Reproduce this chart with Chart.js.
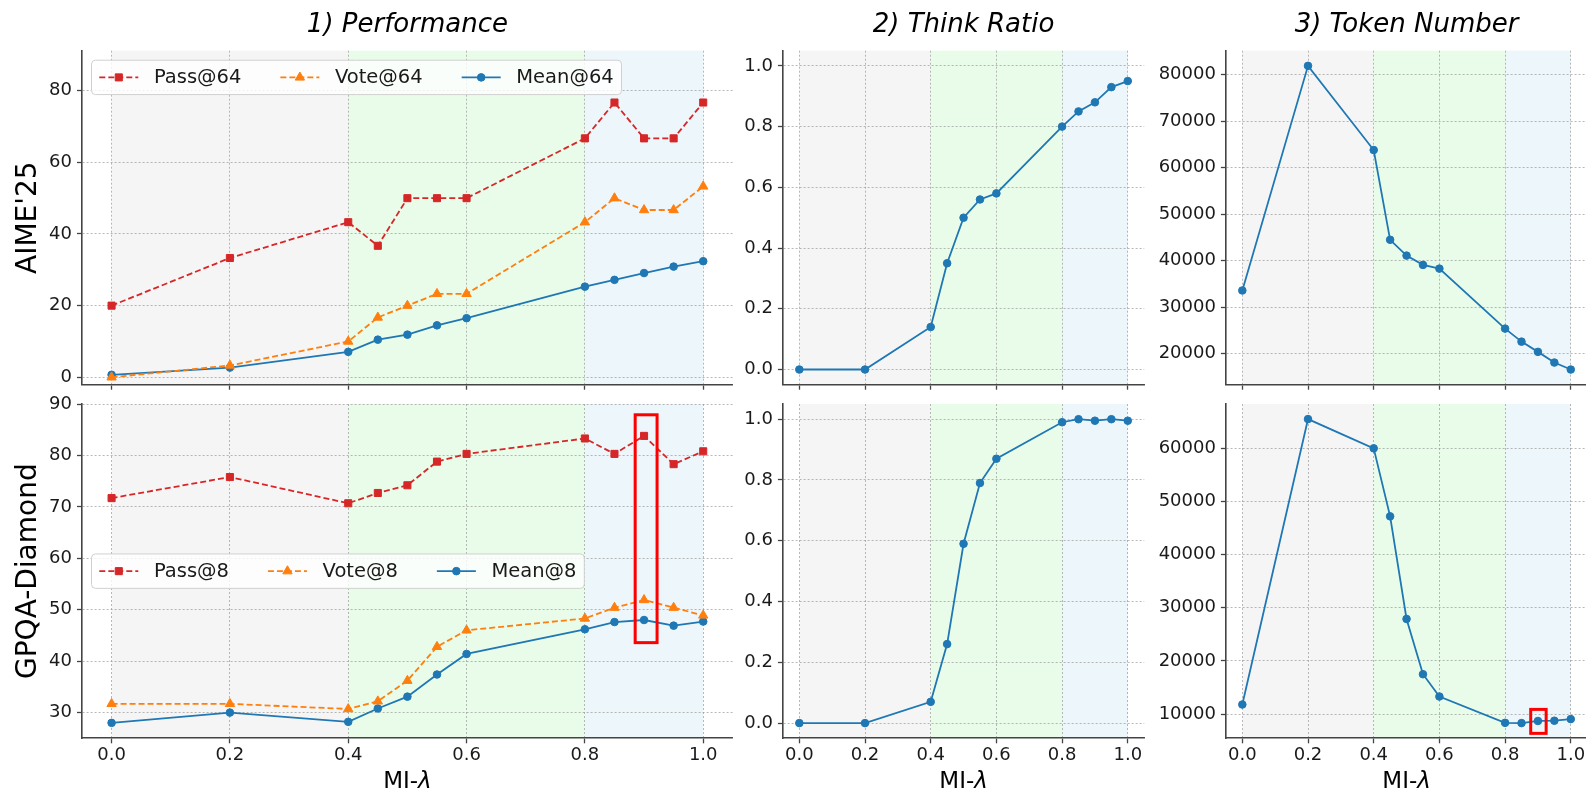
<!DOCTYPE html>
<html>
<head>
<meta charset="utf-8">
<script src="https://cdn.jsdelivr.net/npm/chart.js@4.4.0/dist/chart.umd.min.js"></script>
<style>
  html, body { margin: 0; padding: 0; background: #fff; }
  body { position: relative; width: 1586px; height: 791px; overflow: hidden; }
  canvas { position: absolute; }
</style>
</head>
<body>
<script>
// ---- data -------------------------------------------------------------
const lambdas = [0.0, 0.2, 0.4, 0.45, 0.5, 0.55, 0.6, 0.8, 0.85, 0.9, 0.95, 1.0];

const aimePass64 = [20.0, 33.3, 43.3, 36.7, 50.0, 50.0, 50.0, 66.7, 76.7, 66.7, 66.7, 76.7];
const aimeVote64 = [0.0, 3.3, 10.0, 16.7, 20.0, 23.3, 23.3, 43.3, 50.0, 46.7, 46.7, 53.3];
const aimeMean64 = [0.7, 2.7, 7.1, 10.5, 11.9, 14.5, 16.5, 25.3, 27.2, 29.1, 30.9, 32.4];

const gpqaPass8 = [71.7, 75.8, 70.7, 72.7, 74.2, 78.8, 80.3, 83.3, 80.3, 83.8, 78.3, 80.8];
const gpqaVote8 = [31.7, 31.7, 30.7, 32.2, 36.2, 42.8, 46.0, 48.3, 50.4, 51.9, 50.4, 48.9];
const gpqaMean8 = [28.0, 30.0, 28.2, 30.8, 33.1, 37.4, 41.4, 46.2, 47.6, 48.0, 46.9, 47.7];

const aimeThinkRatio = [0.0, 0.0, 0.14, 0.35, 0.50, 0.56, 0.58, 0.80, 0.85, 0.88, 0.93, 0.95];
const gpqaThinkRatio = [0.0, 0.0, 0.07, 0.26, 0.59, 0.79, 0.87, 0.99, 1.0, 0.995, 1.0, 0.995];

const aimeTokens = [33600, 81900, 63800, 44500, 41100, 39100, 38300, 25400, 22600, 20400, 18100, 16600];
const gpqaTokens = [11800, 65500, 60000, 47200, 27900, 17500, 13300, 8350, 8300, 8700, 8750, 9050];

// tick labels
const lambdaTicks = [0.0, 0.2, 0.4, 0.6, 0.8, 1.0];
const aimeScoreTicks = [0, 20, 40, 60, 80];
const gpqaScoreTicks = [30, 40, 50, 60, 70, 80, 90];
const ratioTicks = [0.0, 0.2, 0.4, 0.6, 0.8, 1.0];
const aimeTokenTicks = [20000, 30000, 40000, 50000, 60000, 70000, 80000];
const gpqaTokenTicks = [10000, 20000, 30000, 40000, 50000, 60000];

// λ regimes shaded behind the curves
const regimeEdges = [0.0, 0.4, 0.8, 1.0];

// highlighted point (λ = 0.9), in data units: [xFrom, xTo, yFrom, yTo]
const gpqaScoreHighlight = [0.885, 0.922, 43.6, 87.9];
const gpqaTokenHighlight = [0.878, 0.925, 6370, 10880];

// ---- styling ----------------------------------------------------------
const FONT = "'DejaVu Sans', sans-serif";
const INK = '#1a1a1a';
const SPINE = '#444444';
const GRID = 'rgba(150,150,150,0.75)';
const regimeFills = ['rgba(0,0,0,0.04)', 'rgba(144,238,144,0.2)', 'rgba(173,216,230,0.22)'];

const seriesStyles = {
  pass: { color: '#d62728', dash: [6, 3], point: 'rect', radius: 5.0 },
  vote: { color: '#ff7f0e', dash: [6, 3], point: 'triangle', radius: 5.4 },
  mean: { color: '#1f77b4', dash: [], point: 'circle', radius: 3.8 }
};

const fmtInt = v => String(Math.round(v));
const fmtOne = v => v.toFixed(1);

// canvas box [left, top, width, height] and plot area [left, top, right, bottom] in page px
const panels = [
  { box: [0, 0, 745, 405], area: [82, 50.7, 732.8, 384.7], y: [-2.07, 91.17], yTicks: aimeScoreTicks, fmt: fmtInt,
    title: '1) Performance', yLabel: "AIME'25", legend: 'upper', showX: false,
    series: [['Pass@64', aimePass64, 'pass'], ['Vote@64', aimeVote64, 'vote'], ['Mean@64', aimeMean64, 'mean']] },
  { box: [722, 0, 432, 405], area: [782.9, 50.7, 1144.2, 384.7], y: [-0.05, 1.05], yTicks: ratioTicks, fmt: fmtOne,
    title: '2) Think Ratio', showX: false,
    series: [['Think Ratio', aimeThinkRatio, 'mean']] },
  { box: [1135, 0, 462, 405], area: [1225.9, 50.7, 1587.2, 384.7], y: [13340, 85160], yTicks: aimeTokenTicks, fmt: fmtInt,
    title: '3) Token Number', showX: false,
    series: [['Token Number', aimeTokens, 'mean']] },
  { box: [0, 385, 745, 415], area: [82, 404, 732.8, 738.3], y: [25, 90], yTicks: gpqaScoreTicks, fmt: fmtInt,
    yLabel: 'GPQA-Diamond', legend: 'center', showX: true, highlight: gpqaScoreHighlight,
    series: [['Pass@8', gpqaPass8, 'pass'], ['Vote@8', gpqaVote8, 'vote'], ['Mean@8', gpqaMean8, 'mean']] },
  { box: [722, 385, 432, 415], area: [782.9, 404, 1144.2, 738.3], y: [-0.05, 1.05], yTicks: ratioTicks, fmt: fmtOne,
    showX: true,
    series: [['Think Ratio', gpqaThinkRatio, 'mean']] },
  { box: [1135, 385, 462, 415], area: [1225.9, 404, 1587.2, 738.3], y: [5440, 68340], yTicks: gpqaTokenTicks, fmt: fmtInt,
    showX: true, highlight: gpqaTokenHighlight,
    series: [['Token Number', gpqaTokens, 'mean']] }
];

// ---- per-panel decoration: regime shading, legend, captions, highlight ----
function roundRectPath(ctx, x, y, w, h, r) {
  ctx.beginPath();
  ctx.moveTo(x + r, y);
  ctx.lineTo(x + w - r, y);
  ctx.arcTo(x + w, y, x + w, y + r, r);
  ctx.lineTo(x + w, y + h - r);
  ctx.arcTo(x + w, y + h, x + w - r, y + h, r);
  ctx.lineTo(x + r, y + h);
  ctx.arcTo(x, y + h, x, y + h - r, r);
  ctx.lineTo(x, y + r);
  ctx.arcTo(x, y, x + r, y, r);
  ctx.closePath();
}

function makeDecor(p) {
  const [cl, ct] = p.box;
  return {
    id: 'decor',
    beforeDraw(chart) {
      const { ctx, chartArea: a, scales: { x } } = chart;
      ctx.save();
      for (let i = 0; i < regimeFills.length; i++) {
        const x1 = x.getPixelForValue(regimeEdges[i]);
        const x2 = x.getPixelForValue(regimeEdges[i + 1]);
        ctx.fillStyle = regimeFills[i];
        ctx.fillRect(x1, a.top, x2 - x1, a.bottom - a.top);
      }
      ctx.restore();
    },
    afterDraw(chart) {
      const { ctx, chartArea: a, scales: { x, y } } = chart;
      ctx.save();

      // legend
      if (p.legend) {
        const fs = 19.5;
        ctx.font = fs + 'px ' + FONT;
        const pad = 0.4 * fs, handle = 2.0 * fs, textPad = 0.8 * fs, colGap = 2.0 * fs;
        const sets = chart.data.datasets;
        let w = pad * 2;
        sets.forEach((d, i) => {
          w += handle + textPad + ctx.measureText(d.label).width + (i < sets.length - 1 ? colGap : 0);
        });
        const h = 34.4;
        const bx = a.left + 9.5;
        const by = p.legend === 'upper' ? a.top + 9.5 : (a.top + a.bottom) / 2 - h / 2;
        roundRectPath(ctx, bx, by, w, h, 4);
        ctx.fillStyle = 'rgba(255,255,255,0.8)';
        ctx.fill();
        ctx.strokeStyle = '#d0d0d0';
        ctx.lineWidth = 1;
        ctx.stroke();
        const cy = by + h / 2;
        let cx = bx + pad;
        sets.forEach(d => {
          ctx.save();
          ctx.strokeStyle = d.borderColor;
          ctx.lineWidth = d.borderWidth;
          ctx.setLineDash(d.borderDash);
          ctx.beginPath();
          ctx.moveTo(cx, cy);
          ctx.lineTo(cx + handle, cy);
          ctx.stroke();
          ctx.setLineDash([]);
          ctx.fillStyle = d.pointBackgroundColor;
          ctx.strokeStyle = d.pointBorderColor;
          ctx.lineWidth = d.pointBorderWidth;
          Chart.helpers.drawPoint(ctx, { pointStyle: d.pointStyle, rotation: 0, radius: d.pointRadius, borderWidth: d.pointBorderWidth }, cx + handle / 2, cy);
          ctx.restore();
          ctx.fillStyle = INK;
          ctx.textAlign = 'left';
          ctx.textBaseline = 'middle';
          ctx.font = fs + 'px ' + FONT;
          const tx = cx + handle + textPad;
          ctx.fillText(d.label, tx, cy + 1);
          cx = tx + ctx.measureText(d.label).width + colGap;
        });
      }

      // highlighted point
      if (p.highlight) {
        const [x1, x2, y1, y2] = p.highlight;
        const px1 = x.getPixelForValue(x1), px2 = x.getPixelForValue(x2);
        const py1 = y.getPixelForValue(y2), py2 = y.getPixelForValue(y1);
        ctx.strokeStyle = '#ff0000';
        ctx.lineWidth = 3;
        ctx.strokeRect(px1, py1, px2 - px1, py2 - py1);
      }

      // panel title
      ctx.fillStyle = '#000';
      if (p.title) {
        ctx.font = 'italic 26px ' + FONT;
        ctx.textAlign = 'center';
        ctx.textBaseline = 'middle';
        ctx.fillText(p.title, (a.left + a.right) / 2, 25 - ct);
      }

      // benchmark label on the left
      if (p.yLabel) {
        ctx.save();
        ctx.translate(28.5 - cl, (a.top + a.bottom) / 2);
        ctx.rotate(-Math.PI / 2);
        ctx.font = '28px ' + FONT;
        ctx.textAlign = 'center';
        ctx.textBaseline = 'middle';
        ctx.fillText(p.yLabel, 0, 0);
        ctx.restore();
      }

      // x-axis caption "MI-λ" (λ in italic)
      if (p.showX) {
        const fs = 23;
        ctx.textBaseline = 'middle';
        ctx.textAlign = 'left';
        ctx.font = fs + 'px ' + FONT;
        const w1 = ctx.measureText('MI-').width;
        ctx.font = 'italic ' + fs + 'px ' + FONT;
        const w2 = ctx.measureText('λ').width;
        const sx = (a.left + a.right) / 2 - (w1 + w2) / 2;
        const sy = 782 - ct;
        ctx.font = fs + 'px ' + FONT;
        ctx.fillText('MI-', sx, sy);
        ctx.font = 'italic ' + fs + 'px ' + FONT;
        ctx.fillText('λ', sx + w1, sy);
      }
      ctx.restore();
    }
  };
}

// ---- build charts -----------------------------------------------------
function buildPanel(p) {
  const cv = document.createElement('canvas');
  const [cl, ct, cw, ch] = p.box;
  const [al, at, ar, ab] = p.area;
  cv.width = cw;
  cv.height = ch;
  Object.assign(cv.style, { left: cl + 'px', top: ct + 'px', width: cw + 'px', height: ch + 'px' });
  document.body.appendChild(cv);

  const yAxisWidth = al - cl;
  const xAxisHeight = ct + ch - ab;
  const tickFont = { family: FONT, size: 18 };
  const gridOpts = { color: GRID, lineWidth: 0.9, tickLength: 5, tickColor: SPINE, tickWidth: 1.3, tickBorderDash: [] };
  const borderOpts = { display: true, color: SPINE, width: 1.6, dash: [2, 2] };

  const datasets = p.series.map(([label, values, key]) => {
    const st = seriesStyles[key];
    return {
      label,
      data: lambdas.map((lam, i) => ({ x: lam, y: values[i] })),
      borderColor: st.color,
      backgroundColor: st.color,
      borderWidth: 1.8,
      borderDash: st.dash,
      pointStyle: st.point,
      pointRadius: st.radius,
      pointHoverRadius: st.radius,
      pointBorderWidth: 1,
      pointBorderColor: st.color,
      pointBackgroundColor: st.color,
      tension: 0,
      fill: false
    };
  });

  new Chart(cv, {
    type: 'line',
    data: { datasets },
    options: {
      responsive: false,
      animation: false,
      devicePixelRatio: 1,
      events: [],
      layout: { padding: { left: 0, top: at - ct, right: cl + cw - ar, bottom: 0 } },
      plugins: { legend: { display: false }, tooltip: { enabled: false }, title: { display: false } },
      scales: {
        x: {
          type: 'linear', min: -0.05, max: 1.05,
          afterBuildTicks: s => { s.ticks = lambdaTicks.map(v => ({ value: v })); },
          afterFit: s => { s.height = xAxisHeight; },
          ticks: { display: p.showX, font: tickFont, color: INK, padding: 1, maxRotation: 0, autoSkip: false, callback: v => v.toFixed(1) },
          grid: gridOpts,
          border: borderOpts
        },
        y: {
          type: 'linear', min: p.y[0], max: p.y[1],
          afterBuildTicks: s => { s.ticks = p.yTicks.map(v => ({ value: v })); },
          afterFit: s => { s.width = yAxisWidth; },
          ticks: { font: tickFont, color: INK, padding: 5, autoSkip: false, callback: v => p.fmt(v) },
          grid: gridOpts,
          border: borderOpts
        }
      }
    },
    plugins: [makeDecor(p)]
  });
}

panels.forEach(buildPanel);
</script>
</body>
</html>
